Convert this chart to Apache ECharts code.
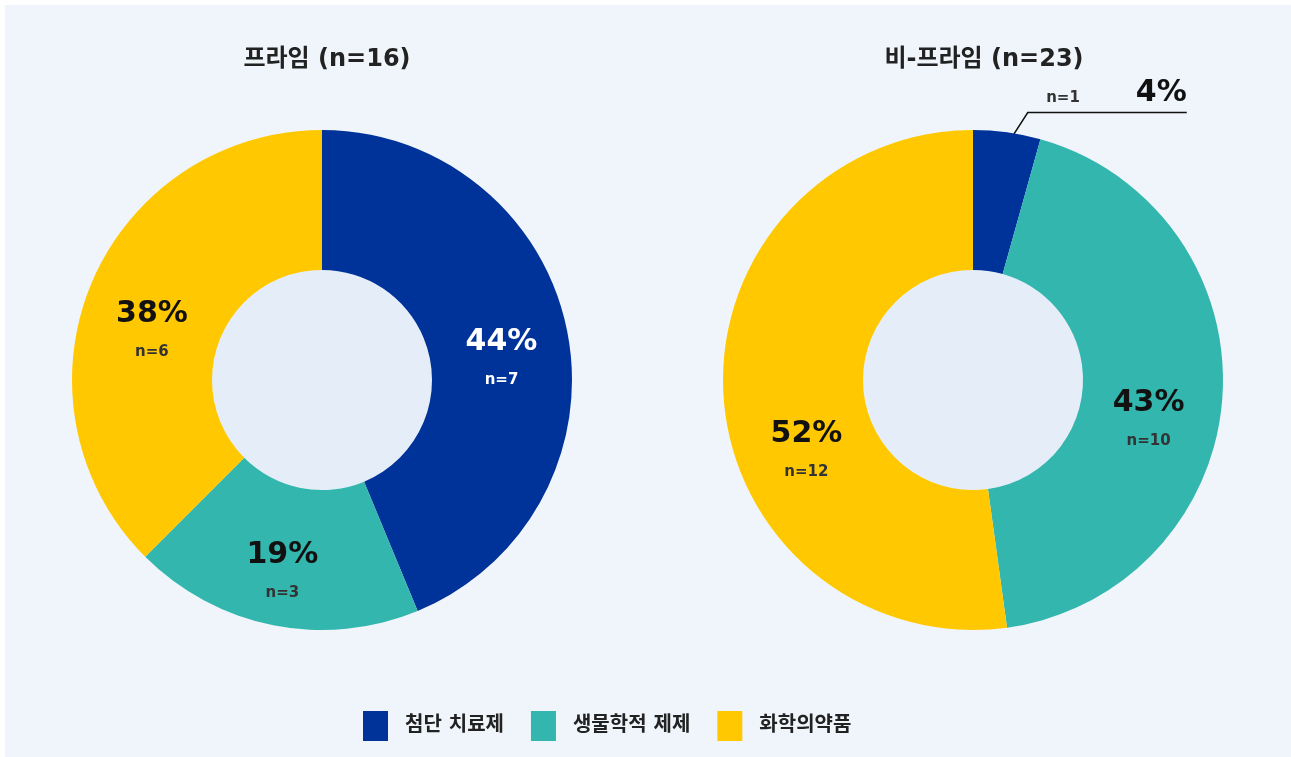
<!DOCTYPE html>
<html>
<head>
<meta charset="utf-8">
<script src="https://cdn.jsdelivr.net/npm/echarts@6/dist/echarts.min.js"></script>
<style>
  html, body { margin: 0; padding: 0; background: #ffffff; }
  #chart { position: absolute; left: 5px; top: 5px; width: 1286px; height: 752px; background: #eff5fb; }
</style>
</head>
<body>
<div id="chart"></div>
<script>
// 데이터
const categories = ['첨단 치료제', '생물학적 제제', '화학의약품'];
const primeCounts = [7, 3, 6];
const primePct = [44, 19, 38];
const nonPrimeCounts = [1, 10, 12];
const nonPrimePct = [4, 43, 52];
const titles = ['프라임 (n=16)', '비-프라임 (n=23)'];

// 라벨 위치 미세 조정 (스타일)
const primeOffsets = [[0, 13], [-4, 11], [-1, 19]];
const nonPrimeOffsets = [[0, 0], [-7, 26], [16, 57]];

const colors = ['#00339a', '#33b6ae', '#ffc800'];
const pctColors = ['#ffffff', '#111111', '#111111'];
const nColors = ['#ffffff', '#333333', '#333333'];
const FONT = 'DejaVu Sans, Noto Sans CJK KR, sans-serif';

const chart = echarts.init(document.getElementById('chart'));

function insideLabel(i, pct, count, offset) {
    return {
        show: true,
        position: 'inside',
        offset: offset,
        formatter: '{p|' + pct + '%}\n{n|n=' + count + '}',
        rich: {
            p: { fontFamily: FONT, fontSize: 30, fontWeight: 'bold', color: pctColors[i], lineHeight: 46 },
            n: { fontFamily: FONT, fontSize: 15, fontWeight: 'bold', color: nColors[i], lineHeight: 30 }
        }
    };
}

function buildData(counts, pct, offsets, outsideIdx) {
    return categories.map((name, i) => {
        const item = {
            name: name,
            value: counts[i],
            itemStyle: { color: colors[i] },
            label: insideLabel(i, pct[i], counts[i], offsets[i]),
            labelLine: { show: false }
        };
        if (i === outsideIdx) {
            item.label = {
                show: true,
                position: 'outside',
                formatter: '{n|n=' + counts[i] + '}{g|}{p|' + pct[i] + '%}',
                rich: {
                    n: { fontFamily: FONT, fontSize: 15, fontWeight: 'bold', color: '#333333', verticalAlign: 'bottom', padding: [0, 0, 3, 0] },
                    g: { width: 56 },
                    p: { fontFamily: FONT, fontSize: 30, fontWeight: 'bold', color: '#111111', verticalAlign: 'bottom' }
                }
            };
            item.labelLine = { show: true, length: 20, length2: 177, lineStyle: { color: '#111111', width: 1.5 } };
        }
        return item;
    });
}

// 가운데 원 (밝은 색)
function hole(cx) {
    return {
        type: 'pie',
        center: [cx, 375],
        radius: [0, 110],
        silent: true,
        label: { show: false },
        labelLine: { show: false },
        data: [{ value: 1, name: 'hole', itemStyle: { color: '#e5eef8' } }],
        z: 1
    };
}

const option = {
    animation: false,
    title: [
        { text: titles[0], left: 317, top: 38, textAlign: 'center',
          textStyle: { fontFamily: FONT, fontSize: 24, fontWeight: 'bold', color: '#222222' } },
        { text: titles[1], left: 974, top: 38, textAlign: 'center',
          textStyle: { fontFamily: FONT, fontSize: 24, fontWeight: 'bold', color: '#222222' } }
    ],
    legend: {
        data: categories,
        left: 353,
        top: 701,
        icon: 'rect',
        itemWidth: 25,
        itemHeight: 30,
        itemGap: 27,
        textStyle: { fontFamily: FONT, fontSize: 20, fontWeight: 'bold', color: '#222222', padding: [0, 0, 0, 12] }
    },
    series: [
        hole(317),
        hole(968),
        {
            type: 'pie',
            center: [317, 375],
            radius: [110, 250],
            startAngle: 90,
            clockwise: true,
            avoidLabelOverlap: false,
            data: buildData(primeCounts, primePct, primeOffsets, -1),
            z: 2
        },
        {
            type: 'pie',
            center: [968, 375],
            radius: [110, 250],
            startAngle: 90,
            clockwise: true,
            avoidLabelOverlap: false,
            data: buildData(nonPrimeCounts, nonPrimePct, nonPrimeOffsets, 0),
            labelLayout: function (params) {
                if (params.dataIndex !== 0 || !params.labelLinePoints) return {};
                const pts = params.labelLinePoints;
                const a = pts[0], b = pts[1], end = pts[pts.length - 1];
                const dx = b[0] - a[0], dy = b[1] - a[1];
                const len = Math.sqrt(dx * dx + dy * dy) || 1;
                // 선이 조각 안쪽에서 시작하도록
                const start = [a[0] - dx / len * 16, a[1] - dy / len * 16];
                const bend = [b[0] + 18, b[1]];
                return {
                    x: end[0],
                    y: end[1] - 4,
                    align: 'right',
                    verticalAlign: 'bottom',
                    labelLinePoints: [start, bend, end]
                };
            },
            z: 2
        }
    ]
};

chart.setOption(option);
</script>
</body>
</html>
